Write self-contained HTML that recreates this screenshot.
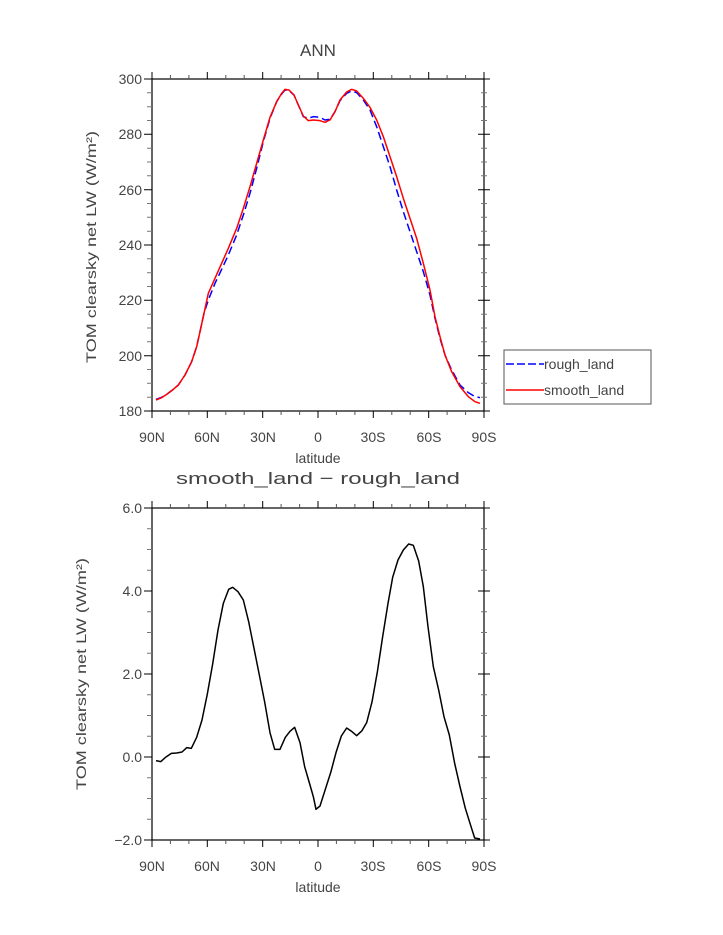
<!DOCTYPE html>
<html><head><meta charset="utf-8"><style>
html,body{margin:0;padding:0;background:#fff;}
svg{display:block;font-family:"Liberation Sans",sans-serif;}
text{fill:#444;}
</style></head><body>
<svg width="723" height="935" viewBox="0 0 723 935" xmlns="http://www.w3.org/2000/svg">
<!-- TOP PLOT -->
<text x="318" y="56" font-size="17" text-anchor="middle">ANN</text>
<rect x="152" y="79" width="332" height="332" fill="none" stroke="#000" stroke-width="1.2"/>
<g stroke="#000" stroke-width="1">
<path d="M152 79v-7M207.3 79v-7M262.7 79v-7M318 79v-7M373.3 79v-7M428.7 79v-7M484 79v-7
M152 411v7M207.3 411v7M262.7 411v7M318 411v7M373.3 411v7M428.7 411v7M484 411v7"/>
<path stroke="#555" d="M170.4 79v-4M188.9 79v-4M225.8 79v-4M244.2 79v-4M281.1 79v-4M299.6 79v-4M336.4 79v-4M354.9 79v-4M391.8 79v-4M410.2 79v-4M447.1 79v-4M465.6 79v-4
M170.4 411v4M188.9 411v4M225.8 411v4M244.2 411v4M281.1 411v4M299.6 411v4M336.4 411v4M354.9 411v4M391.8 411v4M410.2 411v4M447.1 411v4M465.6 411v4"/>
<path d="M152 79h-8M152 134.3h-8M152 189.7h-8M152 245h-8M152 300.3h-8M152 355.7h-8M152 411h-8
M478 79h12M478 134.3h12M478 189.7h12M478 245h12M478 300.3h12M478 355.7h12M478 411h12"/>
<path stroke="#777" d="M152 92.8h-5M152 106.7h-5M152 120.5h-5M152 148.2h-5M152 162h-5M152 175.8h-5M152 203.5h-5M152 217.3h-5M152 231.2h-5M152 258.8h-5M152 272.7h-5M152 286.5h-5M152 314.2h-5M152 328h-5M152 341.8h-5M152 369.5h-5M152 383.3h-5M152 397.2h-5
M481 92.8h6M481 106.7h6M481 120.5h6M481 148.2h6M481 162h6M481 175.8h6M481 203.5h6M481 217.3h6M481 231.2h6M481 258.8h6M481 272.7h6M481 286.5h6M481 314.2h6M481 328h6M481 341.8h6M481 369.5h6M481 383.3h6M481 397.2h6"/>
</g>
<g font-size="14" text-anchor="end">
<text x="142" y="84">300</text><text x="142" y="139">280</text><text x="142" y="195">260</text><text x="142" y="250">240</text><text x="142" y="305">220</text><text x="142" y="361">200</text><text x="142" y="416">180</text>
</g>
<g font-size="14" text-anchor="middle">
<text x="152" y="442">90N</text><text x="207" y="442">60N</text><text x="263" y="442">30N</text><text x="318" y="442">0</text><text x="373" y="442">30S</text><text x="429" y="442">60S</text><text x="484" y="442">90S</text>
<text x="318" y="463">latitude</text>
</g>
<text transform="translate(96,247) rotate(-90)" font-size="14" text-anchor="middle" textLength="232" lengthAdjust="spacingAndGlyphs">TOM clearsky net LW (W/m²)</text>
<g transform="translate(100,30) scale(0.33333)" fill="none" stroke-linejoin="round">
<polyline stroke="#0000ff" stroke-width="4.5" stroke-dasharray="24,12" points="168,1108 185,1102 200,1093 215,1082 235,1065 255,1035 275,995 290,950 300,905 312,850 325,810 345,760 365,718 385,675 410,615 430,555 450,490 470,415 490,335 510,265 530,215 545,192 555,180 567,182 582,195 595,225 610,260 625,265 640,260 660,262 675,270 690,268 705,245 720,212 740,190 755,183 770,188 790,210 810,240 830,290 850,350 870,410 890,480 910,545 930,605 950,665 970,725 990,795 1005,865 1020,925 1035,975 1055,1020 1080,1065 1105,1088 1125,1100 1140,1103"/>
<polyline stroke="#ff0000" stroke-width="4.5" points="168,1110 185,1103 200,1093 215,1082 235,1065 255,1035 275,995 290,950 300,905 312,850 325,790 345,745 365,700 385,655 410,595 430,535 450,470 470,400 490,330 510,262 530,215 545,190 555,178 567,180 582,195 595,225 610,258 625,272 640,270 660,272 675,277 690,270 705,245 720,210 740,186 755,178 770,183 790,205 810,232 830,270 850,320 870,380 890,440 910,505 930,565 950,625 970,700 990,780 1005,860 1020,920 1035,975 1055,1025 1080,1070 1105,1100 1125,1115 1140,1120"/>
</g>
<!-- legend -->
<rect x="504" y="350" width="147" height="54" fill="#fff" stroke="#555" stroke-width="1"/>
<line x1="506" y1="364" x2="544" y2="364" stroke="#0000ff" stroke-width="1.5" stroke-dasharray="8,3"/>
<line x1="506" y1="390" x2="544" y2="390" stroke="#ff0000" stroke-width="1.5"/>
<text x="544" y="369" font-size="14">rough_land</text>
<text x="544" y="395" font-size="14">smooth_land</text>

<!-- BOTTOM PLOT -->
<text x="318" y="484" font-size="17" text-anchor="middle" textLength="284" lengthAdjust="spacingAndGlyphs">smooth_land − rough_land</text>
<rect x="152" y="508" width="332" height="332" fill="none" stroke="#000" stroke-width="1.2"/>
<g stroke="#000" stroke-width="1">
<path d="M152 508v-7M207.3 508v-7M262.7 508v-7M318 508v-7M373.3 508v-7M428.7 508v-7M484 508v-7
M152 840v7M207.3 840v7M262.7 840v7M318 840v7M373.3 840v7M428.7 840v7M484 840v7"/>
<path stroke="#555" d="M170.4 508v-4M188.9 508v-4M225.8 508v-4M244.2 508v-4M281.1 508v-4M299.6 508v-4M336.4 508v-4M354.9 508v-4M391.8 508v-4M410.2 508v-4M447.1 508v-4M465.6 508v-4
M170.4 840v4M188.9 840v4M225.8 840v4M244.2 840v4M281.1 840v4M299.6 840v4M336.4 840v4M354.9 840v4M391.8 840v4M410.2 840v4M447.1 840v4M465.6 840v4"/>
<path d="M152 508h-8M152 591h-8M152 674h-8M152 757h-8M152 840h-8
M478 508h12M478 591h12M478 674h12M478 757h12M478 840h12"/>
<path stroke="#777" d="M152 528.75h-5M152 549.5h-5M152 570.25h-5M152 611.75h-5M152 632.5h-5M152 653.25h-5M152 694.75h-5M152 715.5h-5M152 736.25h-5M152 777.75h-5M152 798.5h-5M152 819.25h-5
M481 528.75h6M481 549.5h6M481 570.25h6M481 611.75h6M481 632.5h6M481 653.25h6M481 694.75h6M481 715.5h6M481 736.25h6M481 777.75h6M481 798.5h6M481 819.25h6"/>
</g>
<g font-size="14" text-anchor="end">
<text x="142" y="513">6.0</text><text x="142" y="596">4.0</text><text x="142" y="679">2.0</text><text x="142" y="762">0.0</text><text x="142" y="845">−2.0</text>
</g>
<g font-size="14" text-anchor="middle">
<text x="152" y="871">90N</text><text x="207" y="871">60N</text><text x="263" y="871">30N</text><text x="318" y="871">0</text><text x="373" y="871">30S</text><text x="429" y="871">60S</text><text x="484" y="871">90S</text>
<text x="318" y="892">latitude</text>
</g>
<text transform="translate(86,674) rotate(-90)" font-size="14" text-anchor="middle" textLength="232" lengthAdjust="spacingAndGlyphs">TOM clearsky net LW (W/m²)</text>
<g transform="translate(100,490) scale(0.33333)" fill="none">
<polyline stroke="#000" stroke-width="4.5" stroke-linejoin="round" points="168,812 182,815 198,801 214,790 230,789 246,786 260,773 274,775 290,742 306,690 322,612 338,522 354,420 370,340 386,298 398,292 414,305 430,330 446,395 462,475 478,555 494,636 510,728 524,778 540,778 556,742 570,724 584,712 600,758 614,830 630,885 640,920 648,958 660,948 676,898 692,848 708,788 724,738 740,714 756,725 770,737 786,722 800,698 816,636 832,546 848,440 864,340 878,262 894,210 910,180 926,162 940,166 956,213 970,290 984,410 1000,530 1016,600 1032,680 1048,735 1064,820 1080,890 1096,955 1110,1000 1124,1044 1140,1047"/>
</g>
</svg>
</body></html>
